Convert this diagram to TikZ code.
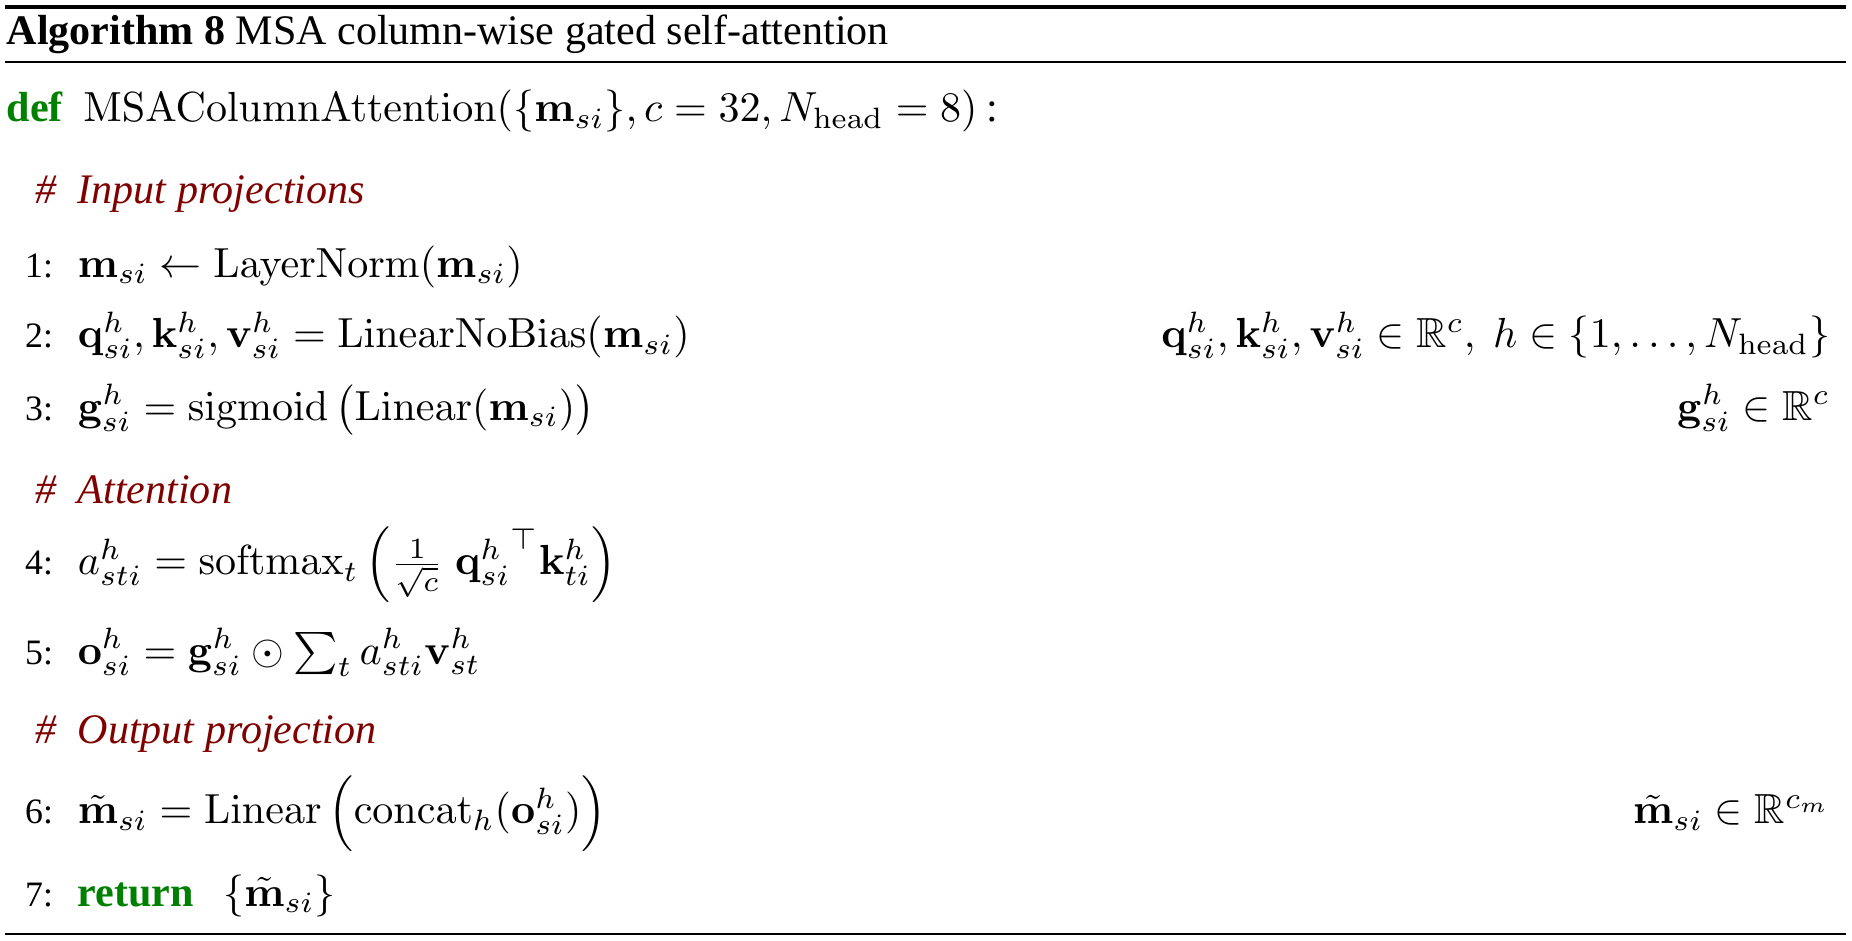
\documentclass[tikz,border=0pt]{standalone}
\usepackage{amsmath}
\usepackage{amssymb}
\usepackage[no-math]{fontspec}
\setmainfont{Liberation Serif}
\usetikzlibrary{positioning}
\definecolor{kwgreen}{RGB}{0,128,0}
\definecolor{cmtred}{RGB}{128,0,0}

\begin{document}
\begin{tikzpicture}[x=1pt,y=-1pt,
  txt/.style={anchor=base west,inner sep=0pt},
  num/.style={anchor=base east,inner sep=0pt,font=\fontsize{8.5}{10}\selectfont},
  note/.style={anchor=base east,inner sep=0pt},
  cmt/.style={txt,text=cmtred,font=\itshape}]
  \useasboundingbox (0,0) rectangle (440.3,223.7);
  % rules
  \coordinate (top l) at (1.2,1.7);   \coordinate (top r) at (438.8,1.7);
  \coordinate (mid l) at (1.2,14.7);  \coordinate (mid r) at (438.8,14.7);
  \coordinate (bot l) at (1.2,222.1); \coordinate (bot r) at (438.8,222.1);
  \draw[line width=0.8pt] (top l) -- (top r);
  \draw[line width=0.4pt] (mid l) -- (mid r);
  \draw[line width=0.4pt] (bot l) -- (bot r);
  % caption and header
  \node[txt] (title) at (1.4,10.7) {\textbf{Algorithm 8} MSA column-wise gated self-attention};
  \node[txt] (def) at (1.4,29.0) {\textcolor{kwgreen}{\textbf{def}}\hspace{4.8pt}$\mathrm{MSAColumnAttention}(\{\mathbf{m}_{si}\},c=32,N_\mathrm{head}=8)$\hspace{2pt}:};
  % input projections
  \node[cmt] (c1) at (8.3,48.3) {\#\ \ Input projections};
  \node[num] (n1) at (12.8,65.9) {1:};
  \node[txt] (l1) at (18.3,65.9) {$\mathbf{m}_{si} \leftarrow \mathrm{LayerNorm}(\mathbf{m}_{si})$};
  \node[num] (n2) at (12.8,82.7) {2:};
  \node[txt] (l2) at (18.3,82.7) {$\mathbf{q}^h_{si}, \mathbf{k}^h_{si}, \mathbf{v}^h_{si} = \mathrm{LinearNoBias}(\mathbf{m}_{si})$};
  \node[note] (r2) at (435.3,82.7) {$\mathbf{q}^h_{si}, \mathbf{k}^h_{si}, \mathbf{v}^h_{si} \in \mathbb{R}^c,\ h \in \{1,\dots,N_\mathrm{head}\}$};
  \node[num] (n3) at (12.8,99.9) {3:};
  \node[txt] (l3) at (18.3,99.9) {$\mathbf{g}^h_{si} = \mathrm{sigmoid}\,\big(\mathrm{Linear}(\mathbf{m}_{si})\big)$};
  \node[note] (r3) at (435.3,99.9) {$\mathbf{g}^h_{si} \in \mathbb{R}^c$};
  % attention
  \node[cmt] (c2) at (8.3,119.6) {\#\ \ Attention};
  \node[num] (n4) at (12.8,136.7) {4:};
  \node[txt] (l4) at (18.3,136.7) {$a^h_{sti} = \mathrm{softmax}_t \left( \tfrac{1}{\sqrt{c}}\; {\mathbf{q}^h_{si}}^{\top} \mathbf{k}^h_{ti} \right)$};
  \node[num] (n5) at (12.8,157.9) {5:};
  \node[txt] (l5) at (18.3,157.9) {$\mathbf{o}^h_{si} = \mathbf{g}^h_{si} \odot \sum_t a^h_{sti} \mathbf{v}^h_{st}$};
  % output projection
  \node[cmt] (c3) at (8.3,176.8) {\#\ \ Output projection};
  \node[num] (n6) at (12.8,195.9) {6:};
  \node[txt] (l6) at (18.3,195.9) {$\tilde{\mathbf{m}}_{si} = \mathrm{Linear}\,\Big(\mathrm{concat}_h(\mathbf{o}^h_{si})\Big)$};
  \node[note] (r6) at (435.3,195.9) {$\tilde{\mathbf{m}}_{si} \in \mathbb{R}^{c_m}$};
  \node[num] (n7) at (12.8,215.4) {7:};
  \node[txt] (l7) at (18.3,215.4) {\textcolor{kwgreen}{\textbf{return}}\hspace{7pt}$\{\tilde{\mathbf{m}}_{si}\}$};
\end{tikzpicture}
\end{document}
